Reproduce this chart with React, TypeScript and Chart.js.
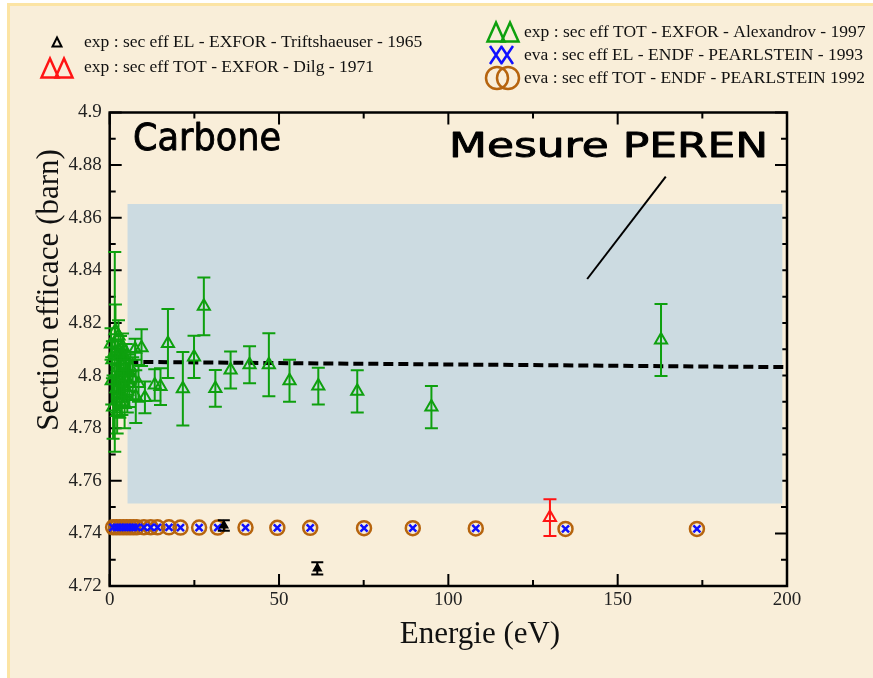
import React, { useEffect, useRef } from 'react';
import { Chart, registerables } from 'chart.js';

Chart.register(...registerables);

// ---------- data ----------
// Alexandrov 1997 (EXFOR, total cross-section) : energy (eV), value (barn), error (barn)
const greenX = [0.4, 0.6, 0.8, 1.0, 1.5, 1.7, 2.0, 2.2, 2.4, 2.6, 2.8, 3.0, 3.2, 3.4, 3.6, 3.8, 4.0, 4.2, 4.4, 4.6, 4.9, 5.2, 5.5, 5.8, 6.1, 6.8, 7.5, 7.7, 8.5, 9.4, 10.4, 13.3, 15.0, 17.2, 21.6, 24.9, 27.8, 31.2, 35.7, 41.3, 47.0, 53.1, 61.6, 73.1, 95.0, 162.8];
const greenY = [4.812, 4.798, 4.806, 4.788, 4.809, 4.817, 4.795, 4.786, 4.803, 4.815, 4.799, 4.79, 4.808, 4.801, 4.793, 4.811, 4.796, 4.804, 4.789, 4.799, 4.806, 4.794, 4.801, 4.797, 4.803, 4.799, 4.81, 4.792, 4.797, 4.8106, 4.7917, 4.7964, 4.7958, 4.8122, 4.795, 4.8071, 4.8263, 4.7951, 4.8021, 4.8041, 4.8041, 4.798, 4.796, 4.794, 4.788, 4.8135];
const greenErr = [0.006, 0.009, 0.007, 0.012, 0.038, 0.01, 0.009, 0.008, 0.01, 0.006, 0.011, 0.006, 0.007, 0.01, 0.008, 0.005, 0.006, 0.008, 0.009, 0.007, 0.006, 0.008, 0.007, 0.009, 0.006, 0.008, 0.004, 0.01, 0.007, 0.007, 0.006, 0.006, 0.007, 0.0131, 0.014, 0.008, 0.011, 0.007, 0.007, 0.007, 0.012, 0.008, 0.007, 0.008, 0.008, 0.0137];

// Dilg 1971 (EXFOR, total)
const redX = [130.0];
const redY = [4.746];
const redErr = [0.007];

// Triftshaeuser 1965 (EXFOR, elastic)
const blackX = [33.7, 61.3];
const blackY = [4.743, 4.7267];
const blackErr = [0.002, 0.0023];

// PEARLSTEIN ENDF evaluations
const endfX = [1, 2, 3, 4, 5, 6, 7, 8, 10.1, 12.1, 14.1, 17.5, 20.9, 26.4, 31.9, 40.1, 49.5, 59.2, 75.1, 89.5, 108.1, 134.6, 173.4];
const endfElY = [4.7423, 4.7423, 4.7423, 4.7423, 4.7423, 4.7423, 4.7423, 4.7423, 4.7423, 4.7423, 4.7423, 4.7423, 4.7422, 4.7422, 4.7422, 4.7422, 4.7421, 4.7421, 4.742, 4.742, 4.7419, 4.7417, 4.7417];
const endfTotY = [4.7423, 4.7423, 4.7423, 4.7423, 4.7423, 4.7423, 4.7423, 4.7423, 4.7423, 4.7423, 4.7423, 4.7423, 4.7422, 4.7422, 4.7422, 4.7422, 4.7421, 4.7421, 4.742, 4.742, 4.7419, 4.7417, 4.7417];

// PEREN measurement band and mean line
const bandX = [5.2, 198.7];
const bandTop = 4.8652;
const bandBottom = 4.7514;
const fitX = [5.5, 200];
const fitY = [4.8052, 4.8032];
const pointerX = [164.2, 141.0];
const pointerY = [4.8756, 4.8367];

// axes
const xTicks = [0, 50, 100, 150, 200];
const xTickLabels = ['0', '50', '100', '150', '200'];
const xMinorTicks = [25, 75, 125, 175];
const yTicks = [4.72, 4.74, 4.76, 4.78, 4.8, 4.82, 4.84, 4.86, 4.88, 4.9];
const yTickLabels = ['4.72', '4.74', '4.76', '4.78', '4.8', '4.82', '4.84', '4.86', '4.88', '4.9'];
const yMinorTicks = [4.73, 4.75, 4.77, 4.79, 4.81, 4.83, 4.85, 4.87, 4.89];

const legendLeft = ['exp : sec eff EL - EXFOR - Triftshaeuser - 1965', 'exp : sec eff TOT - EXFOR - Dilg - 1971'];
const legendRight = ['exp : sec eff TOT - EXFOR - Alexandrov - 1997', 'eva : sec eff EL - ENDF - PEARLSTEIN - 1993', 'eva : sec eff TOT - ENDF - PEARLSTEIN 1992'];

const GREEN = '#0ea00e';
const RED = '#ff1414';
const BLUE = '#1010ff';
const BROWN = '#b6640e';
const SERIF = '"Liberation Serif", "Times New Roman", serif';
const HAND = '"Comic Sans MS", "DejaVu Sans", sans-serif';

const pts = (xs: number[], ys: number[]) => xs.map((x, i) => ({ x, y: ys[i] }));

function tri(ctx: CanvasRenderingContext2D, cx: number, cy: number, w: number, h: number) {
  ctx.beginPath();
  ctx.moveTo(cx, cy - h / 2);
  ctx.lineTo(cx + w / 2, cy + h / 2);
  ctx.lineTo(cx - w / 2, cy + h / 2);
  ctx.closePath();
}

const errorBarPlugin = {
  id: 'errorBars',
  afterDatasetDraw(chart: any, args: any) {
    const ds = chart.data.datasets[args.index];
    if (!ds.errors) return;
    const ctx = chart.ctx;
    const ys = chart.scales.y;
    ctx.save();
    ctx.strokeStyle = ds.borderColor;
    ctx.lineWidth = 2;
    args.meta.data.forEach((el: any, i: number) => {
      const v = ds.data[i].y;
      const e = ds.errors[i];
      const t = ys.getPixelForValue(v + e);
      const b = ys.getPixelForValue(v - e);
      const half = ds.capWidth / 2;
      ctx.beginPath();
      ctx.moveTo(el.x, t);
      ctx.lineTo(el.x, b);
      ctx.moveTo(el.x - half, t);
      ctx.lineTo(el.x + half, t);
      ctx.moveTo(el.x - half, b);
      ctx.lineTo(el.x + half, b);
      ctx.stroke();
    });
    ctx.restore();
  },
};

const framePlugin = {
  id: 'frame',
  beforeDatasetsDraw(chart: any) {
    const { ctx, chartArea: a, scales } = chart;
    const xs = scales.x;
    const ys = scales.y;
    ctx.save();
    ctx.strokeStyle = '#000';
    ctx.lineWidth = 2.5;
    ctx.strokeRect(a.left, a.top, a.right - a.left, a.bottom - a.top);
    ctx.lineWidth = 2;
    const major = 12;
    const minor = 6;
    ctx.beginPath();
    const xt = (v: number, len: number) => {
      const p = xs.getPixelForValue(v);
      ctx.moveTo(p, a.bottom);
      ctx.lineTo(p, a.bottom - len);
      ctx.moveTo(p, a.top);
      ctx.lineTo(p, a.top + len);
    };
    const yt = (v: number, len: number) => {
      const p = ys.getPixelForValue(v);
      ctx.moveTo(a.left, p);
      ctx.lineTo(a.left + len, p);
      ctx.moveTo(a.right, p);
      ctx.lineTo(a.right - len, p);
    };
    xTicks.forEach((v) => xt(v, major));
    xMinorTicks.forEach((v) => xt(v, minor));
    yTicks.forEach((v) => yt(v, major));
    yMinorTicks.forEach((v) => yt(v, minor));
    ctx.stroke();
    ctx.restore();
  },
};

function fitText(ctx: CanvasRenderingContext2D, text: string, x: number, y: number, width: number) {
  const w = ctx.measureText(text).width;
  ctx.save();
  ctx.translate(x, y);
  ctx.scale(width / w, 1);
  ctx.lineWidth = 0.9;
  ctx.strokeStyle = '#000';
  ctx.lineJoin = 'round';
  ctx.fillText(text, 0, 0);
  ctx.strokeText(text, 0, 0);
  ctx.restore();
}

const textPlugin = {
  id: 'texts',
  afterDraw(chart: any) {
    const ctx: CanvasRenderingContext2D = chart.ctx;
    ctx.save();
    ctx.fillStyle = '#111';
    // axis titles
    ctx.font = `31px ${SERIF}`;
    ctx.textAlign = 'center';
    ctx.textBaseline = 'alphabetic';
    ctx.fillText('Energie (eV)', 480, 643);
    ctx.save();
    ctx.translate(58, 290);
    ctx.rotate(-Math.PI / 2);
    ctx.font = `31px ${SERIF}`;
    ctx.fillText('Section efficace (barn)', 0, 0);
    ctx.restore();

    // handwritten labels
    ctx.textAlign = 'left';
    ctx.textBaseline = 'alphabetic';
    ctx.fillStyle = '#000';
    ctx.font = `38px ${HAND}`;
    fitText(ctx, 'Carbone', 133, 150, 148);
    ctx.font = `34px ${HAND}`;
    fitText(ctx, 'Mesure PEREN', 449, 157, 319);

    // legend
    ctx.font = `17.5px ${SERIF}`;
    ctx.textBaseline = 'middle';
    ctx.fillStyle = '#111';
    const lyL = [42, 67];
    const lyR = [32, 55, 78];
    legendLeft.forEach((t, i) => ctx.fillText(t, 84, lyL[i]));
    legendRight.forEach((t, i) => ctx.fillText(t, 524, lyR[i]));

    ctx.lineJoin = 'miter';
    // black small triangle
    ctx.strokeStyle = '#000';
    ctx.lineWidth = 2;
    tri(ctx, 57, 42, 9, 9);
    ctx.stroke();
    // red double triangle
    ctx.strokeStyle = RED;
    ctx.lineWidth = 2.5;
    tri(ctx, 50, 68, 17, 19);
    ctx.stroke();
    tri(ctx, 64, 68, 17, 19);
    ctx.stroke();
    // green double triangle
    ctx.strokeStyle = GREEN;
    tri(ctx, 496, 32, 17, 19);
    ctx.stroke();
    tri(ctx, 510, 32, 17, 19);
    ctx.stroke();
    // blue double X
    ctx.strokeStyle = BLUE;
    ctx.beginPath();
    [496, 507].forEach((cx) => {
      ctx.moveTo(cx - 6, 46);
      ctx.lineTo(cx + 6, 64);
      ctx.moveTo(cx + 6, 46);
      ctx.lineTo(cx - 6, 64);
    });
    ctx.stroke();
    // brown double circle
    ctx.strokeStyle = BROWN;
    [497, 508].forEach((cx) => {
      ctx.beginPath();
      ctx.arc(cx, 78, 11, 0, Math.PI * 2);
      ctx.stroke();
    });
    ctx.restore();
  },
};

export default function App() {
  const ref = useRef<HTMLCanvasElement | null>(null);

  useEffect(() => {
    if (!ref.current) return;
    const tickFont = { family: SERIF, size: 19 };
    const chart = new Chart(ref.current, {
      type: 'scatter',
      data: {
        datasets: [
          {
            type: 'scatter',
            label: 'Triftshaeuser 1965',
            data: pts(blackX, blackY),
            pointStyle: 'triangle',
            pointRadius: 4.5,
            borderWidth: 1.5,
            borderColor: '#000',
            backgroundColor: '#000',
            errors: blackErr,
            capWidth: 12,
            clip: false,
            order: 1,
          },
          {
            type: 'scatter',
            label: 'Dilg 1971',
            data: pts(redX, redY),
            pointStyle: 'triangle',
            pointRadius: 7,
            borderWidth: 2,
            borderColor: RED,
            backgroundColor: 'rgba(0,0,0,0)',
            errors: redErr,
            capWidth: 13,
            clip: false,
            order: 2,
          },
          {
            type: 'scatter',
            label: 'ENDF EL 1993',
            data: pts(endfX, endfElY),
            pointStyle: 'crossRot',
            pointRadius: 5,
            borderWidth: 2.5,
            borderColor: BLUE,
            backgroundColor: BLUE,
            clip: false,
            order: 3,
          },
          {
            type: 'scatter',
            label: 'ENDF TOT 1992',
            data: pts(endfX, endfTotY),
            pointStyle: 'circle',
            pointRadius: 7,
            borderWidth: 2.5,
            borderColor: BROWN,
            backgroundColor: 'rgba(0,0,0,0)',
            clip: false,
            order: 4,
          },
          {
            type: 'scatter',
            label: 'Alexandrov 1997',
            data: pts(greenX, greenY),
            pointStyle: 'triangle',
            pointRadius: 7,
            borderWidth: 2,
            borderColor: GREEN,
            backgroundColor: 'rgba(0,0,0,0)',
            errors: greenErr,
            capWidth: 13,
            clip: false,
            order: 5,
          },
          {
            type: 'line',
            label: 'pointer',
            data: pts(pointerX, pointerY),
            borderColor: '#000',
            borderWidth: 2,
            pointRadius: 0,
            fill: false,
            order: 8,
          },
          {
            type: 'line',
            label: 'mean',
            data: pts(fitX, fitY),
            borderColor: '#000',
            borderWidth: 4,
            borderDash: [10, 5],
            pointRadius: 0,
            fill: false,
            clip: false,
            order: 9,
          },
          {
            type: 'line',
            label: 'band',
            data: pts(bandX, [bandTop, bandTop]),
            borderWidth: 0,
            borderColor: 'rgba(0,0,0,0)',
            backgroundColor: 'rgb(204,219,225)',
            pointRadius: 0,
            fill: { value: bandBottom },
            order: 10,
          },
        ] as any,
      },
      options: {
        responsive: false,
        animation: false,
        devicePixelRatio: 1,
        events: [],
        layout: { padding: { left: 0, top: 112.5, right: 86, bottom: 0 } },
        plugins: {
          legend: { display: false },
          tooltip: { enabled: false },
          title: { display: false },
        },
        scales: {
          x: {
            type: 'linear',
            min: 0,
            max: 200,
            afterBuildTicks: (s: any) => {
              s.ticks = xTicks.map((v) => ({ value: v }));
            },
            afterFit: (s: any) => {
              s.height = 92;
            },
            grid: { display: false, drawTicks: false },
            border: { display: false },
            ticks: {
              font: tickFont,
              color: '#222',
              padding: 3,
              maxRotation: 0,
              autoSkip: false,
              callback: (v: any) => {
                const i = xTicks.findIndex((t) => Math.abs(t - v) < 1e-6);
                return i >= 0 ? xTickLabels[i] : '';
              },
            },
          },
          y: {
            type: 'linear',
            min: 4.72,
            max: 4.9,
            afterBuildTicks: (s: any) => {
              s.ticks = yTicks.map((v) => ({ value: v }));
            },
            afterFit: (s: any) => {
              s.width = 109.7;
            },
            grid: { display: false, drawTicks: false },
            border: { display: false },
            ticks: {
              font: tickFont,
              color: '#222',
              padding: 8,
              autoSkip: false,
              callback: (v: any) => {
                const i = yTicks.findIndex((t) => Math.abs(t - v) < 1e-6);
                return i >= 0 ? yTickLabels[i] : '';
              },
            },
          },
        },
      } as any,
      plugins: [framePlugin, errorBarPlugin, textPlugin],
    });
    return () => chart.destroy();
  }, []);

  return (
    <div
      style={{
        position: 'fixed',
        left: 0,
        top: 0,
        width: 873,
        height: 678,
        background: '#ffffff',
        overflow: 'hidden',
      }}
    >
      <div
        style={{
          position: 'absolute',
          left: 7,
          top: 3,
          width: 873,
          height: 678,
          background: 'rgb(249,238,217)',
          borderLeft: '3px solid rgb(252,228,164)',
          borderTop: '3px solid rgb(252,228,164)',
        }}
      />
      <canvas
        ref={ref}
        width={873}
        height={678}
        style={{ position: 'absolute', left: 0, top: 0, width: 873, height: 678 }}
      />
    </div>
  );
}
